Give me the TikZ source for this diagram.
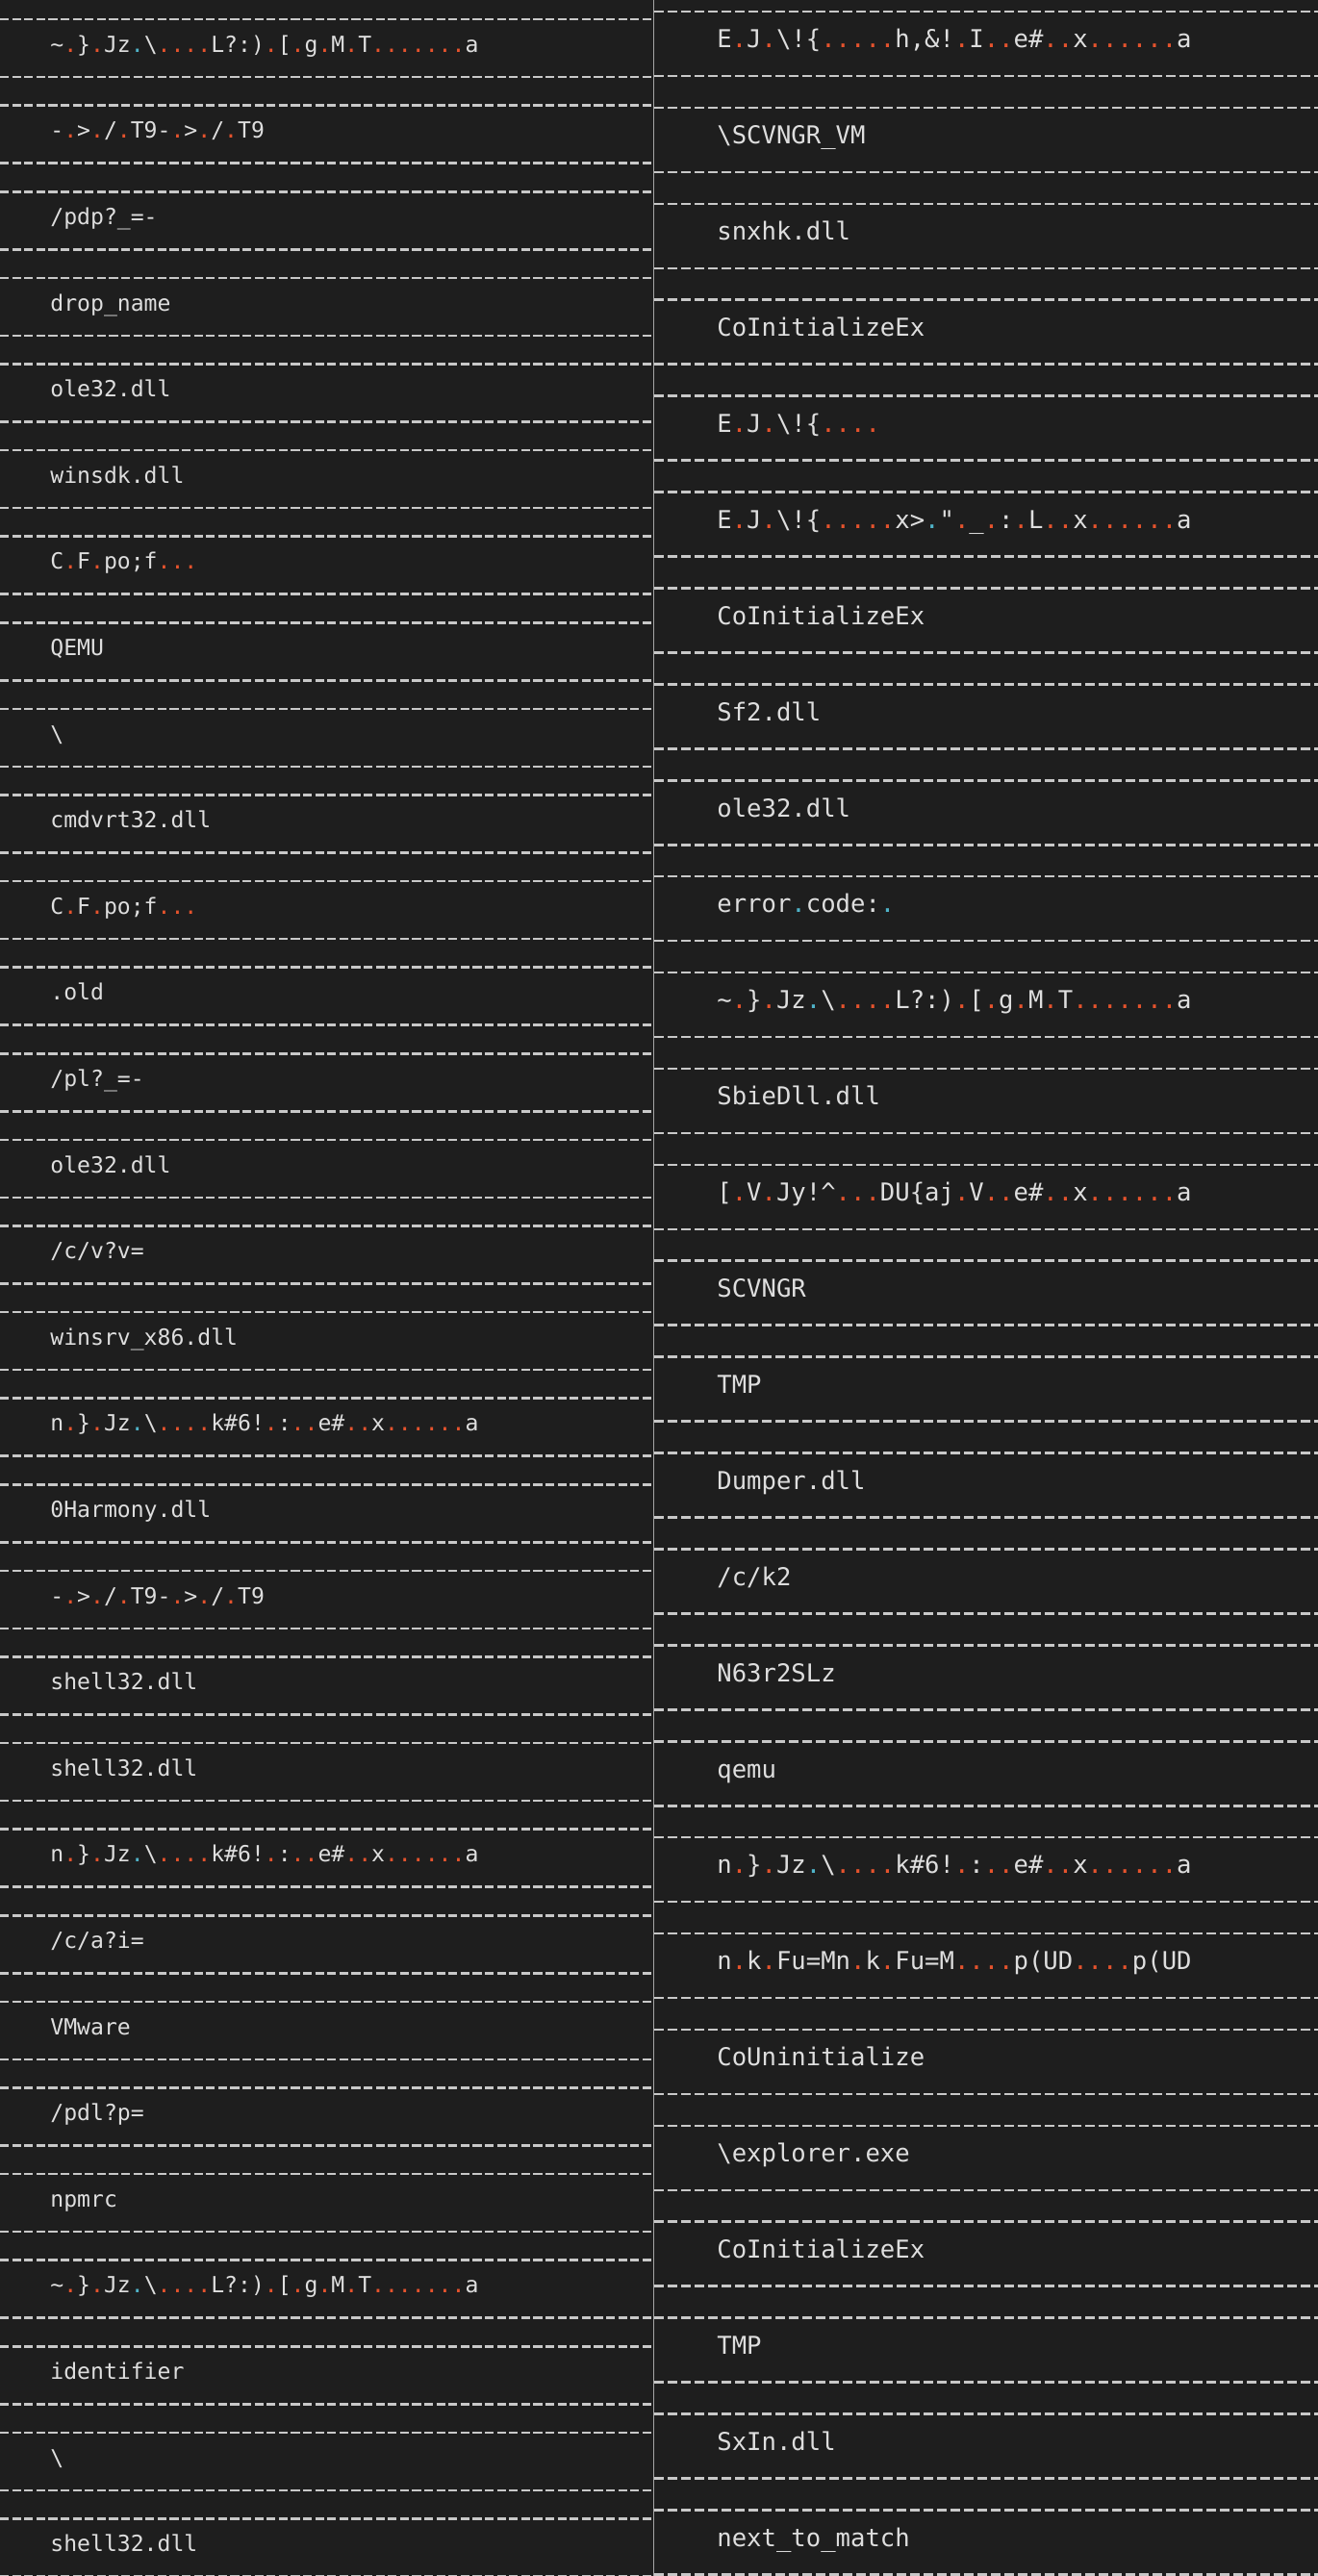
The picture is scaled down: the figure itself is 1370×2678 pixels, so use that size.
\documentclass[tikz,border=0pt]{standalone}
\usepackage{fontspec}
\setmonofont{DejaVu Sans Mono}
\definecolor{bg}{HTML}{1E1E1E}
\definecolor{fg}{HTML}{DEDEDE}
\definecolor{ln}{HTML}{C8C8C8}
\definecolor{dotor}{HTML}{E5532D}
\definecolor{dotcy}{HTML}{4FB3C8}
\newcommand\od{\textcolor{dotor}{.}}
\newcommand\cd{\textcolor{dotcy}{.}}
\newcommand\lrow[2]{\node[ltxt] (l#1) at (52,{50+89.6*(#1-1)}) {#2};}
\newcommand\rrow[2]{\node[rtxt] (r#1) at (745,{45.5+99.9*(#1-1)}) {#2};}
\tikzset{
  ltxt/.style={anchor=mid west,inner sep=0pt,text=fg,font=\ttfamily\fontsize{11.55}{14}\selectfont},
  rtxt/.style={anchor=mid west,inner sep=0pt,text=fg,font=\ttfamily\fontsize{12.8}{15}\selectfont},
  lsep/.style={draw=ln,line width=1.3pt,dash pattern=on 4.6pt off 1.7pt},
  rsep/.style={draw=ln,line width=1.3pt,dash pattern=on 5.1pt off 1.9pt},
  divider/.style={draw=gray!70,line width=0.6pt}
}
\begin{document}
\begin{tikzpicture}[x=0.5pt,y=-0.5pt]
\fill[bg] (0,0) rectangle (1370,2678);
\useasboundingbox (0,0) rectangle (1370,2678);
\foreach \k in {0,...,29}{
  \draw[lsep] (0,{20+89.6*\k}) -- (679,{20+89.6*\k});
  \draw[lsep] (0,{80+89.6*\k}) -- (679,{80+89.6*\k});
}
\foreach \k in {0,...,26}{
  \draw[rsep] (680,{12+99.9*\k}) -- (1370,{12+99.9*\k});
  \draw[rsep] (680,{79+99.9*\k}) -- (1370,{79+99.9*\k});
}
\coordinate (dtop) at (679.5,0);
\coordinate (dbot) at (679.5,2678);
\draw[divider] (dtop) -- (dbot);
\lrow{1}{\textasciitilde\od\}\od Jz\cd\textbackslash\od\od\od\od L?:)\od[\od g\od M\od T\od\od\od\od\od\od\od a}
\lrow{2}{-\od>\od/\od T9-\od>\od/\od T9}
\lrow{3}{/pdp?\_=-}
\lrow{4}{drop\_name}
\lrow{5}{ole32.dll}
\lrow{6}{winsdk.dll}
\lrow{7}{C\od F\od po;f\od\od\od}
\lrow{8}{QEMU}
\lrow{9}{\textbackslash}
\lrow{10}{cmdvrt32.dll}
\lrow{11}{C\od F\od po;f\od\od\od}
\lrow{12}{.old}
\lrow{13}{/pl?\_=-}
\lrow{14}{ole32.dll}
\lrow{15}{/c/v?v=}
\lrow{16}{winsrv\_x86.dll}
\lrow{17}{n\od\}\od Jz\cd\textbackslash\od\od\od\od k\#6!\od:\od\od e\#\od\od x\od\od\od\od\od\od a}
\lrow{18}{0Harmony.dll}
\lrow{19}{-\od>\od/\od T9-\od>\od/\od T9}
\lrow{20}{shell32.dll}
\lrow{21}{shell32.dll}
\lrow{22}{n\od\}\od Jz\cd\textbackslash\od\od\od\od k\#6!\od:\od\od e\#\od\od x\od\od\od\od\od\od a}
\lrow{23}{/c/a?i=}
\lrow{24}{VMware}
\lrow{25}{/pdl?p=}
\lrow{26}{npmrc}
\lrow{27}{\textasciitilde\od\}\od Jz\cd\textbackslash\od\od\od\od L?:)\od[\od g\od M\od T\od\od\od\od\od\od\od a}
\lrow{28}{identifier}
\lrow{29}{\textbackslash}
\lrow{30}{shell32.dll}
\rrow{1}{E\od J\od\textbackslash!\{\od\od\od\od\od h,\&!\od I\od\od e\#\od\od x\od\od\od\od\od\od a}
\rrow{2}{\textbackslash SCVNGR\_VM}
\rrow{3}{snxhk.dll}
\rrow{4}{CoInitializeEx}
\rrow{5}{E\od J\od\textbackslash!\{\od\od\od\od}
\rrow{6}{E\od J\od\textbackslash!\{\od\od\od\od\od x>\cd"\od\_\od:\od L\od\od x\od\od\od\od\od\od a}
\rrow{7}{CoInitializeEx}
\rrow{8}{Sf2.dll}
\rrow{9}{ole32.dll}
\rrow{10}{error\cd code:\cd}
\rrow{11}{\textasciitilde\od\}\od Jz\cd\textbackslash\od\od\od\od L?:)\od[\od g\od M\od T\od\od\od\od\od\od\od a}
\rrow{12}{SbieDll.dll}
\rrow{13}{[\od V\od Jy!\textasciicircum\od\od\od DU\{aj\od V\od\od e\#\od\od x\od\od\od\od\od\od a}
\rrow{14}{SCVNGR}
\rrow{15}{TMP}
\rrow{16}{Dumper.dll}
\rrow{17}{/c/k2}
\rrow{18}{N63r2SLz}
\rrow{19}{qemu}
\rrow{20}{n\od\}\od Jz\cd\textbackslash\od\od\od\od k\#6!\od:\od\od e\#\od\od x\od\od\od\od\od\od a}
\rrow{21}{n\od k\od Fu=Mn\od k\od Fu=M\od\od\od\od p(UD\od\od\od\od p(UD}
\rrow{22}{CoUninitialize}
\rrow{23}{\textbackslash explorer.exe}
\rrow{24}{CoInitializeEx}
\rrow{25}{TMP}
\rrow{26}{SxIn.dll}
\rrow{27}{next\_to\_match}
\end{tikzpicture}
\end{document}
